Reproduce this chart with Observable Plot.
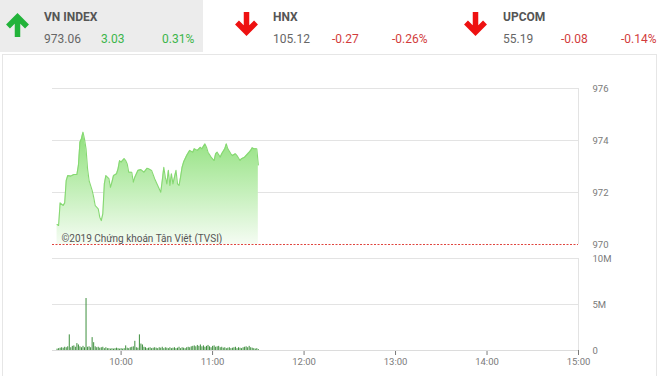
<!DOCTYPE html>
<html>
<head>
<meta charset="utf-8">
<script src="https://cdn.jsdelivr.net/npm/d3@7"></script>
<script src="https://cdn.jsdelivr.net/npm/@observablehq/plot@0.6"></script>
<style>
  html, body { margin: 0; padding: 0; background: #fff; width: 660px; height: 376px; overflow: hidden; font-family: Roboto, "Noto Sans", sans-serif; }
  #hdr { position: absolute; left: 0; top: 0; }
  #box { position: absolute; left: 2px; top: 54px; width: 655px; height: 340px; border: 1px solid #e6e6e6; box-sizing: border-box; }
  #price { position: absolute; left: 0; top: 70px; }
  #vol { position: absolute; left: 0; top: 250px; }
</style>
</head>
<body>
<svg id="hdr" width="660" height="54" xmlns="http://www.w3.org/2000/svg"></svg>
<div id="box"></div>
<div id="price"></div>
<div id="vol"></div>
<script>
// ---- header data ----
const indexNames = ["VN INDEX", "HNX", "UPCOM"];
const indexValues = ["973.06", "105.12", "55.19"];
const indexChanges = ["3.03", "-0.27", "-0.08"];
const indexPercents = ["0.31%", "-0.26%", "-0.14%"];

// ---- price series (VN-Index, intraday) ----
const priceTimes = ["9:18","9:19","9:20","9:22","9:23","9:24","9:25","9:27","9:29","9:31",
  "9:32","9:33","9:34","9:35","9:36","9:37","9:38","9:39","9:41","9:42",
  "9:43","9:45","9:46","9:47","9:48","9:49","9:50","9:52","9:53","9:54",
  "9:55","9:57","9:58","9:59","10:00","10:02","10:03","10:04","10:05","10:07",
  "10:08","10:09","10:11","10:13","10:15","10:17","10:18","10:20","10:22","10:24",
  "10:26","10:27","10:28","10:29","10:30","10:31","10:32","10:33","10:34","10:36",
  "10:37","10:38","10:39","10:40","10:41","10:43","10:45","10:47","10:48","10:50",
  "10:52","10:53","10:55","10:56","10:57","10:59","11:01","11:02","11:03","11:05",
  "11:06","11:08","11:09","11:10","11:12","11:13","11:15","11:16","11:18","11:19",
  "11:21","11:23","11:24","11:25","11:26","11:27","11:29","11:30"];
const priceValues = [970.77,970.73,971.60,971.50,971.60,972.46,972.65,972.63,972.69,972.69,
  973.04,973.93,974.07,974.32,974.05,973.68,972.91,972.46,972.08,971.82,
  971.50,971.37,971.05,970.92,971.18,972.33,972.65,972.53,972.20,972.40,
  972.65,972.72,972.91,973.23,973.17,973.30,973.23,973.10,972.78,972.78,
  972.40,972.59,972.85,972.88,972.78,972.93,972.91,972.85,972.53,972.27,
  972.01,972.46,972.97,972.59,972.33,972.85,972.27,972.72,972.33,972.85,
  972.33,972.27,972.59,972.97,973.17,973.42,973.62,973.55,973.68,973.62,
  973.74,973.68,973.87,973.74,973.55,973.36,973.23,973.49,973.55,973.36,
  973.49,973.68,973.87,973.68,973.49,973.42,973.49,973.42,973.23,973.30,
  973.36,973.49,973.55,973.62,973.72,973.68,973.68,973.06];
const referencePrice = 970;

// ---- volume per minute (millions), starting 9:18 ----
const volumeStart = "9:18";
const volumeValues = [
  0.15,0.2,0.25,0.3,0.25,0.35,0.3,0.4,1.7,0.3,
  0.45,0.5,0.35,0.75,0.6,0.4,0.3,0.45,0.3,5.65,
  0.35,0.4,0.3,1.4,0.85,0.4,0.3,0.35,0.25,0.3,
  0.35,0.2,0.3,0.2,0.2,0.15,0.2,0.15,0.2,0.25,
  0.2,0.15,0.2,0.15,0.2,0.5,0.25,0.2,0.3,0.35,
  0.4,1.0,0.3,0.25,1.7,0.7,0.6,0.35,0.3,0.2,
  0.25,0.3,0.2,0.25,0.3,0.25,0.2,0.3,0.25,0.35,
  0.2,0.3,0.25,0.2,0.3,0.2,0.25,0.3,0.2,0.25,
  0.35,0.2,0.3,0.25,0.2,0.3,0.35,0.3,0.4,0.45,
  0.5,0.4,0.55,0.45,0.6,0.4,0.5,0.35,0.45,0.55,
  0.4,0.3,0.45,0.5,0.35,0.4,0.45,0.3,0.35,0.25,
  0.3,0.2,0.25,0.3,0.2,0.25,0.3,0.35,0.2,0.3,
  0.25,0.2,0.3,0.35,0.4,0.3,0.45,0.3,0.25,0.2,
  0.15,0.2,0.1];

// ---- axes ----
const sessionDomain = ["9:15", "15:00"];
const hourTicks = ["10:00","11:00","12:00","13:00","14:00","15:00"];
const priceTicks = [970, 972, 974, 976];
const volumeTicks = [0, 5, 10];
const copyright = "©2019 Chứng khoán Tân Việt (TVSI)";

const toMin = s => { const [h, m] = s.split(":").map(Number); return h * 60 + m; };
const fmtMin = m => `${Math.floor(m / 60)}:${String(m % 60).padStart(2, "0")}`;

const price = priceTimes.map((t, i) => ({ t: toMin(t), v: priceValues[i] }));
const vol = volumeValues.map((v, i) => ({ t: toMin(volumeStart) + i, v }));
const xDomain = sessionDomain.map(toMin);

// ---- header ----
(function header() {
  const svg = document.getElementById("hdr");
  const ns = "http://www.w3.org/2000/svg";
  const bg = document.createElementNS(ns, "rect");
  bg.setAttribute("x", 0); bg.setAttribute("y", 0); bg.setAttribute("width", 203); bg.setAttribute("height", 52);
  bg.setAttribute("fill", "#ececec");
  svg.appendChild(bg);
  const cols = [{ a: 6, t: 44, c: 101, p: 162 }, { a: 235, t: 273, c: 332, p: 392 }, { a: 464, t: 503, c: 561, p: 621 }];
  indexNames.forEach((name, i) => {
    const col = cols[i];
    const up = !indexChanges[i].startsWith("-");
    const g = document.createElementNS(ns, "g");
    g.setAttribute("transform", `translate(${col.a},${up ? 13 : 12})`);
    const arrow = document.createElementNS(ns, "path");
    arrow.setAttribute("d", up ? "M11.5,24 V4 M2,13.5 L11.5,4 L21,13.5" : "M11.5,0 V20 M2,10.5 L11.5,20 L21,10.5");
    arrow.setAttribute("fill", "none");
    arrow.setAttribute("stroke", up ? "#22b33a" : "#ee1111");
    arrow.setAttribute("stroke-width", 5.5);
    g.appendChild(arrow);
    svg.appendChild(g);
    const txt = (x, y, s, fill, weight) => {
      const t = document.createElementNS(ns, "text");
      t.setAttribute("x", x); t.setAttribute("y", y);
      t.setAttribute("fill", fill);
      t.setAttribute("font-size", "12px");
      t.setAttribute("font-family", "Roboto, sans-serif");
      if (weight) t.setAttribute("font-weight", weight);
      t.textContent = s;
      svg.appendChild(t);
    };
    const cc = up ? "#3bb54a" : "#d23c3c";
    txt(col.t, 21, name, "#555", "bold");
    txt(col.t, 43, indexValues[i], "#666");
    txt(col.c, 43, indexChanges[i], cc);
    txt(col.p, 43, indexPercents[i], cc);
  });
})();

// ---- price chart ----
const gradientDefs = () => {
  const ns = "http://www.w3.org/2000/svg";
  const g = document.createElementNS(ns, "g");
  g.innerHTML = `<defs><linearGradient id="pg" x1="0" y1="0" x2="0" y2="1">
    <stop offset="0" stop-color="#8fe07b"/>
    <stop offset="0.55" stop-color="#c6f0bc"/>
    <stop offset="1" stop-color="#f5fcf3"/></linearGradient></defs>`;
  return g;
};

const gridColor = "#e3e3e3";
const baseStyle = { fontFamily: "Roboto, sans-serif", fontSize: "9.5px", color: "#7a7a7a", background: "transparent", overflow: "visible" };

const pricePlot = Plot.plot({
  width: 660, height: 190,
  marginLeft: 52, marginRight: 82, marginTop: 18, marginBottom: 16,
  style: baseStyle,
  x: { domain: xDomain, axis: null },
  y: { domain: [priceTicks[0], priceTicks[priceTicks.length - 1]], ticks: priceTicks, axis: "right", tickSize: 0, tickPadding: 14, label: null, tickFormat: d => String(d) },
  marks: [
    gradientDefs,
    Plot.ruleY(priceTicks.slice(1), { stroke: gridColor }),
    Plot.ruleX([xDomain[1]], { y1: priceTicks[0], y2: priceTicks[priceTicks.length - 1], stroke: gridColor }),
    Plot.areaY(price, { x: "t", y1: referencePrice, y2: "v", fill: "url(#pg)" }),
    Plot.lineY(price, { x: "t", y: "v", stroke: "#86d872", strokeWidth: 1.1 }),
    Plot.ruleY([referencePrice], { stroke: "#e0453f", strokeDasharray: "2,1.5", strokeWidth: 1 }),
    Plot.text([copyright], { frameAnchor: "bottom-left", dx: 9, dy: -3, textAnchor: "start", fill: "#555", fontSize: 10 })
  ]
});
document.getElementById("price").appendChild(pricePlot);

// ---- volume chart ----
const volPlot = Plot.plot({
  width: 660, height: 126,
  marginLeft: 52, marginRight: 82, marginTop: 8, marginBottom: 26,
  style: baseStyle,
  x: { domain: xDomain, ticks: hourTicks.map(toMin), tickFormat: fmtMin, tickSize: 5, tickPadding: 3, label: null },
  y: { domain: [volumeTicks[0], volumeTicks[volumeTicks.length - 1]], ticks: volumeTicks, axis: "right", tickSize: 0, tickPadding: 14, label: null, tickFormat: d => d === 0 ? "0" : d + "M" },
  marks: [
    Plot.ruleY(volumeTicks.slice(1), { stroke: gridColor }),
    Plot.ruleY([0], { stroke: "#dcdcdc" }),
    Plot.ruleX([xDomain[1]], { y1: 0, y2: volumeTicks[volumeTicks.length - 1], stroke: gridColor }),
    Plot.ruleX(vol, { x: "t", y1: 0, y2: "v", stroke: "#3d8f3d", strokeWidth: 1 })
  ]
});
document.getElementById("vol").appendChild(volPlot);
</script>
</body>
</html>
